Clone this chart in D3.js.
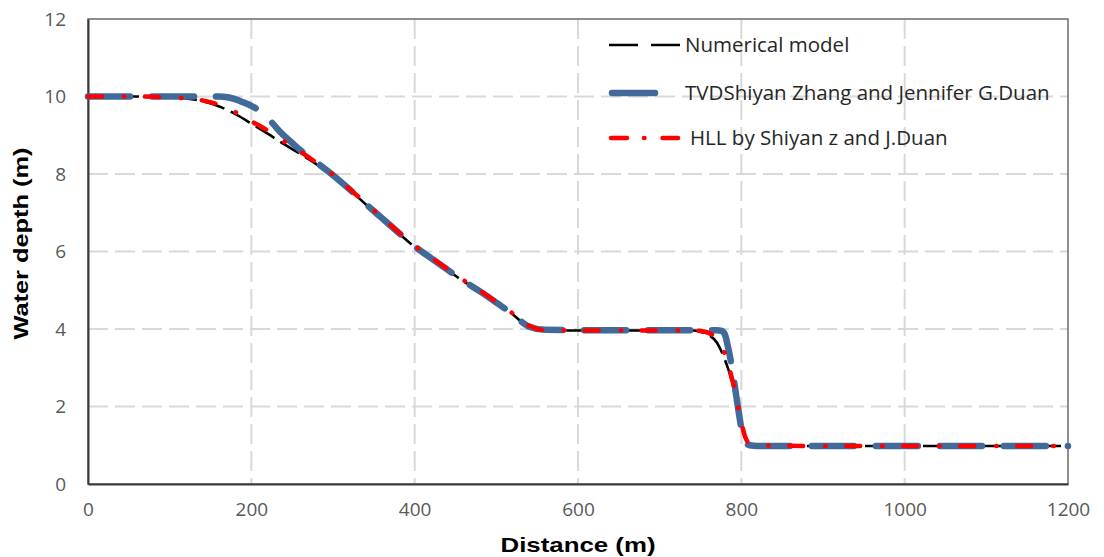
<!DOCTYPE html>
<html>
<head>
<meta charset="utf-8">
<script src="https://cdn.jsdelivr.net/npm/d3@7"></script>
<style>
  html, body { margin: 0; padding: 0; background: #fff; }
  svg { display: block; }
</style>
</head>
<body>
<svg id="chart"></svg>
<script>
// distances (m)
const numX = [0, 50, 100, 120, 140, 160, 180, 200, 220, 240, 260, 280, 300, 320, 340, 360, 380, 400, 420, 440, 460, 480, 500, 520, 530, 540, 550, 560, 580, 600, 650, 700, 740, 750, 760, 770, 775, 780, 785, 790, 795, 800, 805, 810, 820, 850, 900, 1000, 1100, 1200];
// Numerical model water depth (m)
const numY = [10, 10, 9.98, 9.95, 9.88, 9.75, 9.55, 9.3, 9.04, 8.77, 8.52, 8.25, 7.97, 7.6, 7.22, 6.85, 6.48, 6.12, 5.82, 5.52, 5.23, 4.97, 4.68, 4.38, 4.2, 4.08, 4.0, 3.97, 3.96, 3.96, 3.96, 3.96, 3.96, 3.93, 3.85, 3.65, 3.45, 3.2, 2.9, 2.5, 2.05, 1.55, 1.2, 1.05, 1.0, 0.99, 0.98, 0.98, 0.98, 0.98];

const tvdX = [0, 50, 100, 150, 160, 171, 180, 190, 200, 210, 217, 225, 237, 250, 262, 276, 300, 320, 340, 360, 380, 400, 420, 440, 460, 480, 500, 520, 530, 540, 560, 600, 700, 770, 776, 780, 783, 786, 790, 795, 800, 805, 810, 820, 900, 1000, 1100, 1200];
const tvdY = [10, 10, 10, 10, 10, 9.98, 9.93, 9.85, 9.76, 9.63, 9.5, 9.33, 9.05, 8.8, 8.58, 8.36, 7.97, 7.61, 7.23, 6.86, 6.49, 6.13, 5.83, 5.53, 5.24, 4.97, 4.68, 4.38, 4.2, 4.06, 3.98, 3.97, 3.97, 3.97, 3.95, 3.85, 3.6, 3.3, 2.8, 2.1, 1.45, 1.08, 1.0, 0.98, 0.98, 0.98, 0.98, 0.98];

const hllX = [0, 50, 100, 120, 140, 160, 180, 200, 220, 240, 260, 280, 300, 320, 340, 360, 380, 400, 420, 440, 460, 480, 500, 520, 530, 540, 550, 560, 580, 600, 650, 700, 740, 750, 760, 770, 775, 780, 785, 790, 795, 800, 805, 810, 820, 850, 900, 1000, 1100, 1200];
const hllY = [10, 10, 9.98, 9.95, 9.9, 9.79, 9.6, 9.36, 9.12, 8.84, 8.58, 8.29, 7.99, 7.62, 7.25, 6.88, 6.5, 6.15, 5.85, 5.55, 5.26, 4.99, 4.7, 4.4, 4.22, 4.09, 4.0, 3.97, 3.96, 3.96, 3.96, 3.96, 3.96, 3.95, 3.9, 3.75, 3.6, 3.35, 3.0, 2.6, 2.1, 1.6, 1.2, 1.05, 1.0, 0.99, 0.98, 0.98, 0.98, 0.98];

const seriesNames = ["Numerical model", "TVDShiyan Zhang and Jennifer G.Duan", "HLL by Shiyan z and J.Duan"];
const xTicks = [0, 200, 400, 600, 800, 1000, 1200];
const yTicks = [0, 2, 4, 6, 8, 10, 12];

const width = 1104, height = 557;
const margin = { top: 19, right: 36, bottom: 73, left: 88 };
const iw = width - margin.left - margin.right;
const ih = height - margin.top - margin.bottom;

const svg = d3.select("#chart").attr("width", width).attr("height", height);
const g = svg.append("g").attr("transform", `translate(${margin.left},${margin.top})`);

const x = d3.scaleLinear().domain([0, 1200]).range([0, iw]);
const y = d3.scaleLinear().domain([0, 12]).range([ih, 0]);

// gridlines
g.append("g")
  .selectAll("line")
  .data(xTicks.slice(1, -1))
  .join("line")
  .attr("x1", d => x(d)).attr("x2", d => x(d))
  .attr("y1", 0).attr("y2", ih)
  .attr("stroke", "#d9d9d9").attr("stroke-width", 2).attr("stroke-dasharray", "20,7");
g.append("g")
  .selectAll("line")
  .data(yTicks.slice(1, -1))
  .join("line")
  .attr("x1", 0).attr("x2", iw)
  .attr("y1", d => y(d)).attr("y2", d => y(d))
  .attr("stroke", "#d9d9d9").attr("stroke-width", 2).attr("stroke-dasharray", "20,7");

// frame
g.append("rect").attr("width", iw).attr("height", ih)
  .attr("fill", "none").attr("stroke", "#6b6b6b").attr("stroke-width", 1.5);

// axes
const xAxis = g.append("g").attr("transform", `translate(0,${ih})`)
  .call(d3.axisBottom(x).tickValues(xTicks).tickFormat(d3.format("d")).tickSize(0).tickPadding(19));
const yAxis = g.append("g")
  .call(d3.axisLeft(y).tickValues(yTicks).tickFormat(d3.format("d")).tickSize(0).tickPadding(22));
[xAxis, yAxis].forEach(a => {
  a.select(".domain").attr("stroke", "#3a3a3a").attr("stroke-width", 2);
  a.selectAll("text").attr("fill", "#595959")
    .style("font-family", "'Open Sans', sans-serif").style("font-size", "19px");
});

// lines
const line = d3.line().x(d => x(d[0])).y(d => y(d[1])).curve(d3.curveMonotoneX);
const numData = d3.zip(numX, numY);
const tvdData = d3.zip(tvdX, tvdY);
const hllData = d3.zip(hllX, hllY);

const styles = [
  { color: "#000000", w: 2.6, dash: "22,7", cap: "butt" },
  { color: "#41699a", w: 6.5, dash: "42,22", cap: "round" },
  { color: "#ff0000", w: 4.5, dash: "14,22,0.5,20.5", cap: "round" }
];

[numData, tvdData, hllData].forEach((data, i) => {
  g.append("path")
    .datum(data)
    .attr("fill", "none")
    .attr("stroke", styles[i].color)
    .attr("stroke-width", styles[i].w)
    .attr("stroke-dasharray", styles[i].dash)
    .attr("stroke-linecap", styles[i].cap)
    .attr("d", line);
});

// legend
const legendRows = [45, 93, 138];
const lg = svg.append("g");
seriesNames.forEach((name, i) => {
  const s = styles[i];
  const row = lg.append("g").attr("transform", `translate(0,${legendRows[i]})`);
  if (i === 0) {
    row.append("line").attr("x1", 609).attr("x2", 680)
      .attr("stroke", s.color).attr("stroke-width", s.w).attr("stroke-dasharray", "29,13");
  } else if (i === 1) {
    row.append("line").attr("x1", 612).attr("x2", 655)
      .attr("stroke", s.color).attr("stroke-width", s.w).attr("stroke-linecap", "round");
  } else {
    row.append("line").attr("x1", 611).attr("x2", 678)
      .attr("stroke", s.color).attr("stroke-width", s.w).attr("stroke-linecap", "round")
      .attr("stroke-dasharray", "16,17,0.5,18");
  }
  row.append("text")
    .attr("x", i === 2 ? 690 : 685).attr("y", 0).attr("dy", "0.35em")
    .attr("fill", "#262626")
    .style("font-family", "'Open Sans', sans-serif").style("font-size", "20.5px")
    .text(name);
});

// axis titles
svg.append("text")
  .attr("x", margin.left + iw / 2).attr("y", 552)
  .attr("text-anchor", "middle")
  .attr("textLength", 155).attr("lengthAdjust", "spacingAndGlyphs")
  .style("font-family", "'Liberation Sans', Arial, sans-serif")
  .style("font-weight", "bold").style("font-size", "21px")
  .text("Distance (m)");
svg.append("text")
  .attr("transform", `translate(28,${margin.top + ih / 2 - 8}) rotate(-90)`)
  .attr("text-anchor", "middle")
  .attr("textLength", 192).attr("lengthAdjust", "spacingAndGlyphs")
  .style("font-family", "'Liberation Sans', Arial, sans-serif")
  .style("font-weight", "bold").style("font-size", "21px")
  .text("Water depth (m)");
</script>
</body>
</html>
